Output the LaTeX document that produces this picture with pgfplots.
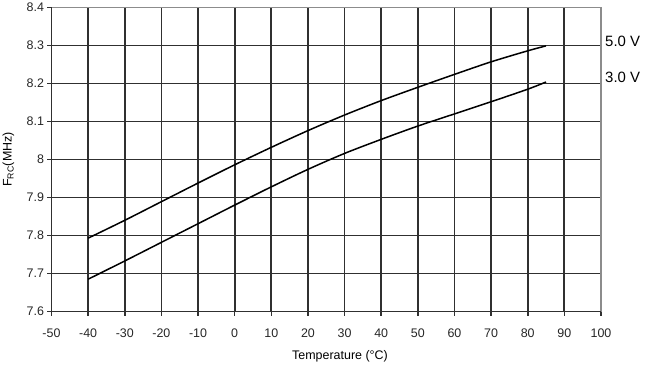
\documentclass[border=0pt]{standalone}
\usepackage{pgfplots}
\pgfplotsset{compat=1.18}
\usepackage{fontspec}
\setmainfont{Liberation Sans}
\definecolor{gridc}{HTML}{303030}
\definecolor{framec}{HTML}{8C8C8C}
\pgfplotstableread{
T F
-40 7.793
-30 7.840
-20 7.889
-10 7.938
0 7.986
10 8.032
20 8.076
30 8.117
40 8.155
50 8.190
60 8.224
70 8.257
80 8.286
85 8.299
}\fivev
\pgfplotstableread{
T F
-40 7.685
-30 7.733
-20 7.782
-10 7.831
0 7.880
10 7.928
20 7.974
30 8.016
40 8.053
50 8.088
60 8.120
70 8.152
80 8.185
85 8.204
}\threev
\begin{document}
\begin{tikzpicture}
\begin{axis}[
  name=ax, at={(0,0)}, anchor=south west,
  scale only axis, width=549.5bp, height=304bp,
  xmin=-50, xmax=100, ymin=7.6, ymax=8.4,
  xtick={-50,-40,...,100},
  ytick={7.6,7.7,7.8,7.9,8.0,8.1,8.2,8.3,8.4},
  yticklabel style={/pgf/number format/fixed, /pgf/number format/precision=1},
  xticklabel style={yshift=-10bp},
  /pgf/number format/assume math mode=true,
  tick label style={font=\fontsize{12.5}{12.5}\selectfont, color=black!85},
  xtick pos=bottom, ytick pos=left,
  tick align=outside, major tick length=4bp,
  tick style={gridc, line width=1.6bp},
  grid=major, major grid style={gridc, line width=1.8bp},
  axis line style={framec, line width=1.8bp},
  clip=false,
  xlabel={Temperature (°C)},
  xlabel style={font=\fontsize{12.5}{12.5}\selectfont, at={(rel axis cs:0.525,0)}, anchor=center, yshift=-45bp},
  ylabel={F\textsubscript{RC}(MHz)},
  ylabel style={font=\fontsize{12.5}{12.5}\selectfont, at={([xshift=-43bp]rel axis cs:0,0.5)}, anchor=center},
]
\addplot[black, line width=1.5bp, smooth] table[x=T, y=F] {\fivev};
\addplot[black, line width=1.5bp, smooth] table[x=T, y=F] {\threev};
\draw[gridc, line width=1.8bp] (rel axis cs:0,1) -- (rel axis cs:0,0) -- (rel axis cs:1,0);
\node[anchor=west, font=\fontsize{15}{15}\selectfont, inner sep=0pt, xshift=4bp] at (axis cs:100,8.31) {5.0 V};
\node[anchor=west, font=\fontsize{15}{15}\selectfont, inner sep=0pt, xshift=4bp] at (axis cs:100,8.217) {3.0 V};
\end{axis}
\pgfresetboundingbox
\path ([xshift=-51.5bp, yshift=-54.5bp]ax.south west) rectangle ([xshift=45bp, yshift=7.5bp]ax.north east);
\end{tikzpicture}
\end{document}
